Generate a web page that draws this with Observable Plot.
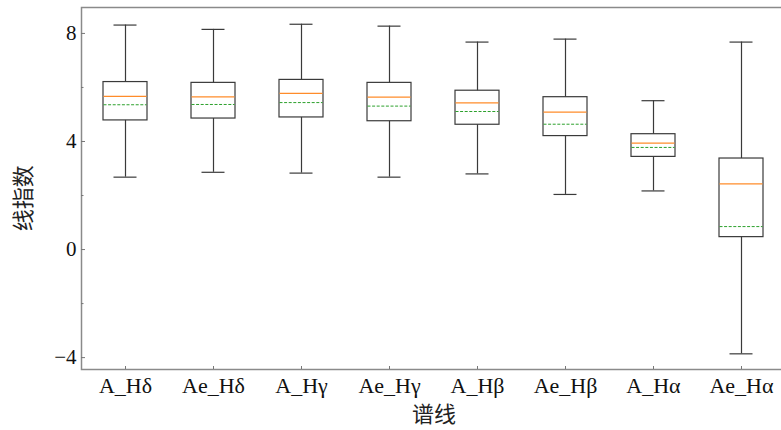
<!DOCTYPE html>
<html>
<head>
<meta charset="utf-8">
<script src="https://cdn.jsdelivr.net/npm/d3@7"></script>
<script src="https://cdn.jsdelivr.net/npm/@observablehq/plot@0.6"></script>
<style>
  html, body { margin: 0; padding: 0; background: white; }
  #chart { width: 781px; height: 430px; overflow: hidden; }
</style>
</head>
<body>
<div id="chart"></div>
<script>
const categories = ["A_Hδ", "Ae_Hδ", "A_Hγ", "Ae_Hγ", "A_Hβ", "Ae_Hβ", "A_Hα", "Ae_Hα"];
const whiskerHigh = [8.31, 8.15, 8.34, 8.27, 7.68, 7.79, 5.51, 7.68];
const q3 = [6.20, 6.17, 6.28, 6.17, 5.88, 5.64, 4.27, 3.37];
const median = [5.67, 5.65, 5.78, 5.64, 5.43, 5.09, 3.94, 2.43];
const mean = [5.36, 5.37, 5.44, 5.31, 5.11, 4.64, 3.78, 0.85];
const q1 = [4.78, 4.85, 4.89, 4.75, 4.62, 4.20, 3.43, 0.46];
const whiskerLow = [2.68, 2.86, 2.83, 2.68, 2.80, 2.04, 2.17, -3.86];
const yMajorTicks = [-4, 0, 4, 8];
const yMinorTicks = [-2, 2, 6];
const yDomain = [-4.44, 8.96];
const yLabel = "线指数";
const xLabel = "谱线";

const rows = categories.map((c, i) => ({
  cat: c, hi: whiskerHigh[i], q3: q3[i], med: median[i], mean: mean[i], q1: q1[i], lo: whiskerLow[i]
}));

const serif = "'Liberation Serif', 'DejaVu Serif', serif";
const cjk = "'Noto Sans CJK SC', sans-serif";
const boxStroke = "#3a3a3a";
const fmt = d => d < 0 ? "\u2212" + (-d) : String(d);

const chart = Plot.plot({
  width: 781,
  height: 430,
  marginLeft: 81,
  marginRight: -5,
  marginTop: 7,
  marginBottom: 61,
  style: { fontFamily: serif, background: "white" },
  x: { type: "band", domain: categories, range: [81, 785], padding: 0, label: null },
  y: { domain: yDomain, range: [369, 7], label: null },
  marks: [
    Plot.frame({ stroke: "#8a8a8a", strokeWidth: 1.5 }),
    // y axis: labels, major & minor inward ticks
    Plot.axisY(yMajorTicks, { tickSize: 0, tickPadding: 5, tickFormat: fmt, fontSize: 21, fontFamily: serif, fill: "#111", label: null }),
    Plot.axisY(yMajorTicks, { tickSize: -4, text: null, stroke: "#777", label: null }),
    Plot.axisY(yMinorTicks, { tickSize: -2.5, text: null, stroke: "#777", label: null }),
    // x axis: labels and inward ticks
    Plot.axisX(categories, { tickSize: 0, tickPadding: 8, fontSize: 22, fontFamily: serif, fill: "#111", label: null }),
    Plot.axisX(categories, { tickSize: -3, text: null, stroke: "#777", label: null }),
    // whiskers
    Plot.ruleX(rows, { x: "cat", y1: "q3", y2: "hi", stroke: boxStroke, strokeWidth: 1.2 }),
    Plot.ruleX(rows, { x: "cat", y1: "lo", y2: "q1", stroke: boxStroke, strokeWidth: 1.2 }),
    // caps
    Plot.tickY(rows, { x: "cat", y: "hi", inset: 32.5, stroke: boxStroke, strokeWidth: 1.2 }),
    Plot.tickY(rows, { x: "cat", y: "lo", inset: 32.5, stroke: boxStroke, strokeWidth: 1.2 }),
    // boxes
    Plot.barY(rows, { x: "cat", y1: "q1", y2: "q3", insetLeft: 22, insetRight: 22, fill: "none", stroke: boxStroke, strokeWidth: 1.2 }),
    // median
    Plot.tickY(rows, { x: "cat", y: "med", inset: 22.5, stroke: "#ff8c2a", strokeWidth: 1.2 }),
    // mean
    Plot.tickY(rows, { x: "cat", y: "mean", inset: 22.5, stroke: "#2ca02c", strokeWidth: 1, strokeDasharray: "3,1.6" }),
    // axis titles
    Plot.text([yLabel], { y: [1.9], frameAnchor: "left", textAnchor: "middle", lineAnchor: "middle", dx: -58, rotate: -90, fontSize: 22, fontFamily: cjk, fill: "#222" }),
    Plot.text([xLabel], { frameAnchor: "bottom", textAnchor: "middle", lineAnchor: "middle", dy: 45, fontSize: 22, fontFamily: cjk, fill: "#222" })
  ]
});
document.getElementById("chart").appendChild(chart);
</script>
</body>
</html>
